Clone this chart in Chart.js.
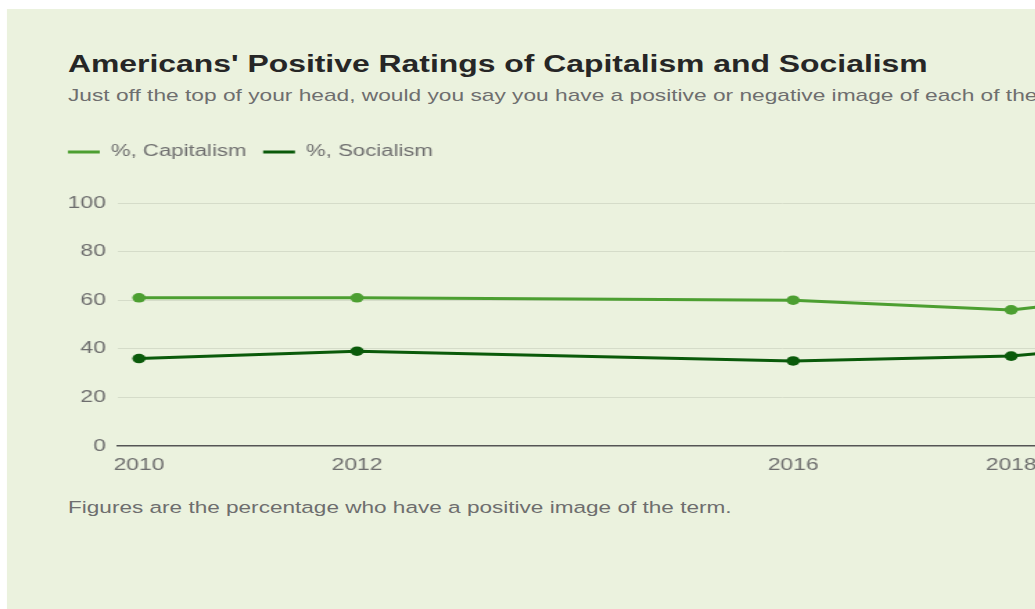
<!DOCTYPE html>
<html>
<head>
<meta charset="utf-8">
<title>Americans' Positive Ratings of Capitalism and Socialism</title>
<script src="https://cdn.jsdelivr.net/npm/chart.js@4.4.1/dist/chart.umd.min.js"></script>
<style>
  html, body { margin: 0; padding: 0; background: #fff; overflow: hidden; }
  /* the reference is stretched sideways, so the whole card is drawn narrow and scaled */
  #stage {
    position: absolute; left: 0; top: 0;
    width: 1100px; height: 609px;
    transform: scaleX(1.386); transform-origin: 0 0;
    font-family: 'Liberation Sans', Arial, sans-serif;
  }
  .card { position: absolute; left: 5.05px; top: 9px; width: 1090px; height: 600px; background: #ebf2de; }
  .title {
    position: absolute; left: 49.06px; top: 52.5px;
    font-size: 23px; line-height: 23px; font-weight: bold; color: #262626; white-space: nowrap;
  }
  .subtitle {
    position: absolute; left: 49.06px; top: 87px;
    font-size: 16.4px; line-height: 16px; color: #6e6e6e; white-space: nowrap;
  }
  .note {
    position: absolute; left: 49.06px; top: 499px;
    font-size: 16.3px; line-height: 16px; color: #6e6e6e; white-space: nowrap;
  }
  #chart-box { position: absolute; left: 37.06px; top: 132px; }
</style>
</head>
<body>
<div id="stage">
  <div class="card"></div>
  <div class="title">Americans' Positive Ratings of Capitalism and Socialism</div>
  <div class="subtitle">Just off the top of your head, would you say you have a positive or negative image of each of the following terms?</div>
  <div id="chart-box"><canvas id="trend-chart" width="1012" height="344"></canvas></div>
  <div class="note">Figures are the percentage who have a positive image of the term.</div>
</div>

<script>
//// Data
const years = [2010, 2012, 2016, 2018, 2019];
const capitalism = [61, 61, 60, 56, 61];
const socialism = [36, 39, 35, 37, 41];
const yTicks = [0, 20, 40, 60, 80, 100];
const seriesNames = ['%, Capitalism', '%, Socialism'];
const seriesColors = ['#4c9f31', '#0a5a0a'];

const FONT = "'Liberation Sans', Arial, sans-serif";
const gridColor = '#d5dcc9';
const labelColor = '#6e6e6e';

const toPoints = (values) => years.map((year, i) => ({ x: year, y: values[i] }));

const makeDataset = (label, values, color) => ({
  label,
  data: toPoints(values),
  borderColor: color,
  backgroundColor: color,
  borderWidth: 3,
  pointRadius: 4.8,
  pointBorderWidth: 0,
  pointBackgroundColor: color,
  pointHoverRadius: 4.8,
  tension: 0,
});

// leave room between the legend row and the top of the plot
const legendGap = {
  id: 'legendGap',
  afterInit(chart) {
    const legend = chart.legend;
    const fit = legend.fit;
    legend.fit = function () {
      fit.call(this);
      this.height += 33;
    };
  },
};

const chartEl = document.getElementById('trend-chart');

if (chartEl) {
  new Chart(chartEl, {
    type: 'line',
    data: {
      datasets: [
        makeDataset(seriesNames[0], capitalism, seriesColors[0]),
        makeDataset(seriesNames[1], socialism, seriesColors[1]),
      ],
    },
    options: {
      responsive: false,
      animation: false,
      layout: { padding: 0 },
      scales: {
        x: {
          type: 'linear',
          min: 2009.807,
          max: 2022,
          afterBuildTicks: (scale) => {
            scale.ticks = years.map((value) => ({ value }));
          },
          afterFit: (scale) => {
            scale.height = 30;
          },
          grid: { display: false, drawTicks: false },
          border: { display: true, color: '#555', width: 1.5 },
          ticks: {
            padding: 10,
            color: labelColor,
            font: { family: FONT, size: 16.5 },
            maxRotation: 0,
            autoSkip: false,
            callback: (value) => String(value),
          },
        },
        y: {
          min: 0,
          max: 100,
          afterBuildTicks: (scale) => {
            scale.ticks = yTicks.map((value) => ({ value }));
          },
          afterFit: (scale) => {
            scale.width = 48.08;
          },
          grid: {
            drawTicks: false,
            color: (ctx) => (ctx.tick && ctx.tick.value === 0 ? 'rgba(0,0,0,0)' : gridColor),
            lineWidth: 1,
          },
          border: { display: false },
          ticks: {
            padding: 8.7,
            color: labelColor,
            font: { family: FONT, size: 16.5 },
          },
        },
      },
      plugins: {
        legend: {
          display: true,
          position: 'top',
          align: 'start',
          labels: {
            boxWidth: 23,
            boxHeight: 3,
            padding: 12,
            color: '#707070',
            font: { family: FONT, size: 16 },
            generateLabels: (chart) =>
              chart.data.datasets.map((ds, i) => ({
                text: ds.label,
                fillStyle: ds.borderColor,
                strokeStyle: ds.borderColor,
                fontColor: '#707070',
                lineWidth: 0,
                datasetIndex: i,
                hidden: false,
              })),
          },
        },
        tooltip: { enabled: false },
      },
    },
    plugins: [legendGap],
  });
}
</script>
</body>
</html>
